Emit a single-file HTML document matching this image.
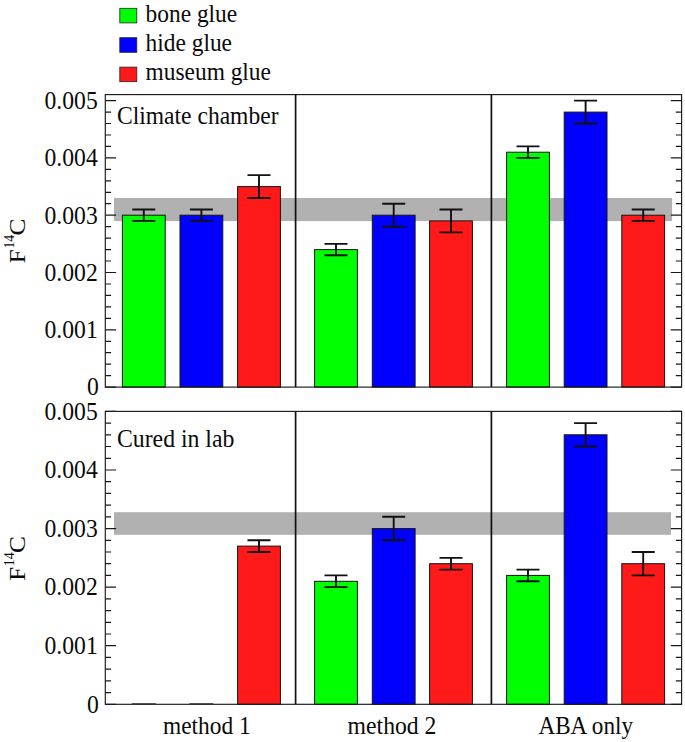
<!DOCTYPE html>
<html><head><meta charset="utf-8"><title>F14C glue chart</title>
<style>html,body{margin:0;padding:0;background:#fff}svg{display:block}text{font-family:"Liberation Serif","Times New Roman",serif;fill:#0a0a0a}</style></head><body>
<svg width="685" height="742" viewBox="0 0 685 742">
<rect width="685" height="742" fill="#fff"/>
<rect x="119.8" y="8.3" width="17.0" height="14.6" fill="#00ff00" stroke="#222" stroke-width="0.8"/>
<text transform="translate(145.6 21.5) scale(1 1.1)" font-size="23.4">bone glue</text>
<rect x="119.8" y="37.7" width="17.0" height="14.6" fill="#0000ff" stroke="#222" stroke-width="0.8"/>
<text transform="translate(145.6 50.9) scale(1 1.1)" font-size="23.4">hide glue</text>
<rect x="119.8" y="67.1" width="17.0" height="14.6" fill="#ff1a1a" stroke="#222" stroke-width="0.8"/>
<text transform="translate(145.6 80.3) scale(1 1.1)" font-size="23.4">museum glue</text>
<rect x="114" y="198.0" width="558.1" height="23.1" fill="#b1b1b1"/>
<rect x="122.4" y="215.2" width="42.8" height="171.9" fill="#00ff00" stroke="#141414" stroke-width="1"/>
<path d="M143.8 209.5V220.9M132.3 209.5h23M132.3 220.9h23" stroke="#111" stroke-width="1.9" fill="none"/>
<rect x="180.0" y="215.2" width="42.8" height="171.9" fill="#0000ff" stroke="#141414" stroke-width="1"/>
<path d="M201.4 209.5V220.9M189.9 209.5h23M189.9 220.9h23" stroke="#111" stroke-width="1.9" fill="none"/>
<rect x="237.6" y="186.6" width="42.8" height="200.6" fill="#ff1a1a" stroke="#141414" stroke-width="1"/>
<path d="M259.0 175.1V198.0M247.5 175.1h23M247.5 198.0h23" stroke="#111" stroke-width="1.9" fill="none"/>
<rect x="314.6" y="249.6" width="42.8" height="137.5" fill="#00ff00" stroke="#141414" stroke-width="1"/>
<path d="M336.0 243.9V255.3M324.5 243.9h23M324.5 255.3h23" stroke="#111" stroke-width="1.9" fill="none"/>
<rect x="372.3" y="215.2" width="42.8" height="171.9" fill="#0000ff" stroke="#141414" stroke-width="1"/>
<path d="M393.7 203.7V226.7M382.2 203.7h23M382.2 226.7h23" stroke="#111" stroke-width="1.9" fill="none"/>
<rect x="429.6" y="220.9" width="42.8" height="166.2" fill="#ff1a1a" stroke="#141414" stroke-width="1"/>
<path d="M451.0 209.5V232.4M439.5 209.5h23M439.5 232.4h23" stroke="#111" stroke-width="1.9" fill="none"/>
<rect x="506.6" y="152.2" width="42.8" height="234.9" fill="#00ff00" stroke="#141414" stroke-width="1"/>
<path d="M528.0 146.4V157.9M516.5 146.4h23M516.5 157.9h23" stroke="#111" stroke-width="1.9" fill="none"/>
<rect x="564.2" y="112.1" width="42.8" height="275.0" fill="#0000ff" stroke="#141414" stroke-width="1"/>
<path d="M585.6 100.6V123.5M574.1 100.6h23M574.1 123.5h23" stroke="#111" stroke-width="1.9" fill="none"/>
<rect x="621.8" y="215.2" width="42.8" height="171.9" fill="#ff1a1a" stroke="#141414" stroke-width="1"/>
<path d="M643.2 209.5V220.9M631.7 209.5h23M631.7 220.9h23" stroke="#111" stroke-width="1.9" fill="none"/>
<rect x="105.3" y="94.6" width="576.3" height="292.5" fill="none" stroke="#1a1a1a" stroke-width="1.15"/>
<path d="M295.6 94.6V387.1" stroke="#111" stroke-width="1.7"/>
<path d="M491.4 94.6V387.1" stroke="#111" stroke-width="1.7"/>
<text transform="translate(98.8 395.4) scale(1 1.055)" font-size="23.65" text-anchor="end">0</text>
<text transform="translate(97.7 338.1) scale(1 1.055)" font-size="23.65" text-anchor="end">0.001</text>
<text transform="translate(97.7 280.8) scale(1 1.055)" font-size="23.65" text-anchor="end">0.002</text>
<text transform="translate(97.7 223.5) scale(1 1.055)" font-size="23.65" text-anchor="end">0.003</text>
<text transform="translate(97.7 166.2) scale(1 1.055)" font-size="23.65" text-anchor="end">0.004</text>
<text transform="translate(97.7 108.9) scale(1 1.055)" font-size="23.65" text-anchor="end">0.005</text>
<path d="M105.3 387.1h10.8M681.6 387.1h-10.8M105.3 375.6h5.8M681.6 375.6h-5.8M105.3 364.2h5.8M681.6 364.2h-5.8M105.3 352.7h5.8M681.6 352.7h-5.8M105.3 341.3h5.8M681.6 341.3h-5.8M105.3 329.8h10.8M681.6 329.8h-10.8M105.3 318.3h5.8M681.6 318.3h-5.8M105.3 306.9h5.8M681.6 306.9h-5.8M105.3 295.4h5.8M681.6 295.4h-5.8M105.3 284.0h5.8M681.6 284.0h-5.8M105.3 272.5h10.8M681.6 272.5h-10.8M105.3 261.0h5.8M681.6 261.0h-5.8M105.3 249.6h5.8M681.6 249.6h-5.8M105.3 238.1h5.8M681.6 238.1h-5.8M105.3 226.7h5.8M681.6 226.7h-5.8M105.3 215.2h10.8M681.6 215.2h-10.8M105.3 203.7h5.8M681.6 203.7h-5.8M105.3 192.3h5.8M681.6 192.3h-5.8M105.3 180.8h5.8M681.6 180.8h-5.8M105.3 169.4h5.8M681.6 169.4h-5.8M105.3 157.9h10.8M681.6 157.9h-10.8M105.3 146.4h5.8M681.6 146.4h-5.8M105.3 135.0h5.8M681.6 135.0h-5.8M105.3 123.5h5.8M681.6 123.5h-5.8M105.3 112.1h5.8M681.6 112.1h-5.8M105.3 100.6h10.8M681.6 100.6h-10.8" stroke="#1a1a1a" stroke-width="1.2" fill="none"/>
<text transform="translate(117.0 124.1) scale(1 1.1)" font-size="23.55">Climate chamber</text>
<g transform="translate(25.3 263.2) rotate(-90)"><text transform="scale(1.035 1)" font-size="24.1">F</text><text transform="translate(14.6 -11.3) scale(0.94 1)" font-size="14.8">14</text><text transform="translate(27.8 0) scale(1.06 1)" font-size="24.1">C</text></g>
<rect x="114" y="512.2" width="557.0" height="22.6" fill="#b1b1b1"/>
<path d="M131.8 703.7h24" stroke="#444" stroke-width="1"/>
<path d="M189.4 703.7h24" stroke="#444" stroke-width="1"/>
<rect x="237.6" y="546.1" width="42.8" height="158.2" fill="#ff1a1a" stroke="#141414" stroke-width="1"/>
<path d="M259.0 540.3V552.0M247.5 540.3h23M247.5 552.0h23" stroke="#111" stroke-width="1.9" fill="none"/>
<rect x="314.6" y="581.3" width="42.8" height="123.0" fill="#00ff00" stroke="#141414" stroke-width="1"/>
<path d="M336.0 575.4V587.1M324.5 575.4h23M324.5 587.1h23" stroke="#111" stroke-width="1.9" fill="none"/>
<rect x="372.3" y="528.6" width="42.8" height="175.7" fill="#0000ff" stroke="#141414" stroke-width="1"/>
<path d="M393.7 516.8V540.3M382.2 516.8h23M382.2 540.3h23" stroke="#111" stroke-width="1.9" fill="none"/>
<rect x="429.6" y="563.7" width="42.8" height="140.6" fill="#ff1a1a" stroke="#141414" stroke-width="1"/>
<path d="M451.0 557.9V569.6M439.5 557.9h23M439.5 569.6h23" stroke="#111" stroke-width="1.9" fill="none"/>
<rect x="506.6" y="575.4" width="42.8" height="128.9" fill="#00ff00" stroke="#141414" stroke-width="1"/>
<path d="M528.0 569.6V581.3M516.5 569.6h23M516.5 581.3h23" stroke="#111" stroke-width="1.9" fill="none"/>
<rect x="564.2" y="434.8" width="42.8" height="269.5" fill="#0000ff" stroke="#141414" stroke-width="1"/>
<path d="M585.6 423.1V446.5M574.1 423.1h23M574.1 446.5h23" stroke="#111" stroke-width="1.9" fill="none"/>
<rect x="621.8" y="563.7" width="42.8" height="140.6" fill="#ff1a1a" stroke="#141414" stroke-width="1"/>
<path d="M643.2 552.0V575.4M631.7 552.0h23M631.7 575.4h23" stroke="#111" stroke-width="1.9" fill="none"/>
<rect x="105.3" y="411.4" width="576.3" height="292.9" fill="none" stroke="#1a1a1a" stroke-width="1.15"/>
<path d="M295.6 411.4V704.3" stroke="#111" stroke-width="1.7"/>
<path d="M491.4 411.4V704.3" stroke="#111" stroke-width="1.7"/>
<text transform="translate(98.8 712.6) scale(1 1.055)" font-size="23.65" text-anchor="end">0</text>
<text transform="translate(97.7 654.0) scale(1 1.055)" font-size="23.65" text-anchor="end">0.001</text>
<text transform="translate(97.7 595.4) scale(1 1.055)" font-size="23.65" text-anchor="end">0.002</text>
<text transform="translate(97.7 536.9) scale(1 1.055)" font-size="23.65" text-anchor="end">0.003</text>
<text transform="translate(97.7 478.3) scale(1 1.055)" font-size="23.65" text-anchor="end">0.004</text>
<text transform="translate(97.7 419.7) scale(1 1.055)" font-size="23.65" text-anchor="end">0.005</text>
<path d="M105.3 704.3h10.8M681.6 704.3h-10.8M105.3 692.6h5.8M681.6 692.6h-5.8M105.3 680.9h5.8M681.6 680.9h-5.8M105.3 669.2h5.8M681.6 669.2h-5.8M105.3 657.4h5.8M681.6 657.4h-5.8M105.3 645.7h10.8M681.6 645.7h-10.8M105.3 634.0h5.8M681.6 634.0h-5.8M105.3 622.3h5.8M681.6 622.3h-5.8M105.3 610.6h5.8M681.6 610.6h-5.8M105.3 598.9h5.8M681.6 598.9h-5.8M105.3 587.1h10.8M681.6 587.1h-10.8M105.3 575.4h5.8M681.6 575.4h-5.8M105.3 563.7h5.8M681.6 563.7h-5.8M105.3 552.0h5.8M681.6 552.0h-5.8M105.3 540.3h5.8M681.6 540.3h-5.8M105.3 528.6h10.8M681.6 528.6h-10.8M105.3 516.8h5.8M681.6 516.8h-5.8M105.3 505.1h5.8M681.6 505.1h-5.8M105.3 493.4h5.8M681.6 493.4h-5.8M105.3 481.7h5.8M681.6 481.7h-5.8M105.3 470.0h10.8M681.6 470.0h-10.8M105.3 458.3h5.8M681.6 458.3h-5.8M105.3 446.5h5.8M681.6 446.5h-5.8M105.3 434.8h5.8M681.6 434.8h-5.8M105.3 423.1h5.8M681.6 423.1h-5.8M105.3 411.4h10.8M681.6 411.4h-10.8" stroke="#1a1a1a" stroke-width="1.2" fill="none"/>
<text transform="translate(117.0 446.6) scale(1 1.1)" font-size="23.75">Cured in lab</text>
<g transform="translate(25.3 580.8) rotate(-90)"><text transform="scale(1.035 1)" font-size="24.1">F</text><text transform="translate(14.6 -11.3) scale(0.94 1)" font-size="14.8">14</text><text transform="translate(27.8 0) scale(1.06 1)" font-size="24.1">C</text></g>
<text transform="translate(163.0 734.0) scale(1 1.1)" font-size="23.4">method 1</text>
<text transform="translate(347.6 734.0) scale(1 1.1)" font-size="23.7">method 2</text>
<text transform="translate(538.4 734.0) scale(1 1.1)" font-size="23.2">ABA only</text>
</svg></body></html>
